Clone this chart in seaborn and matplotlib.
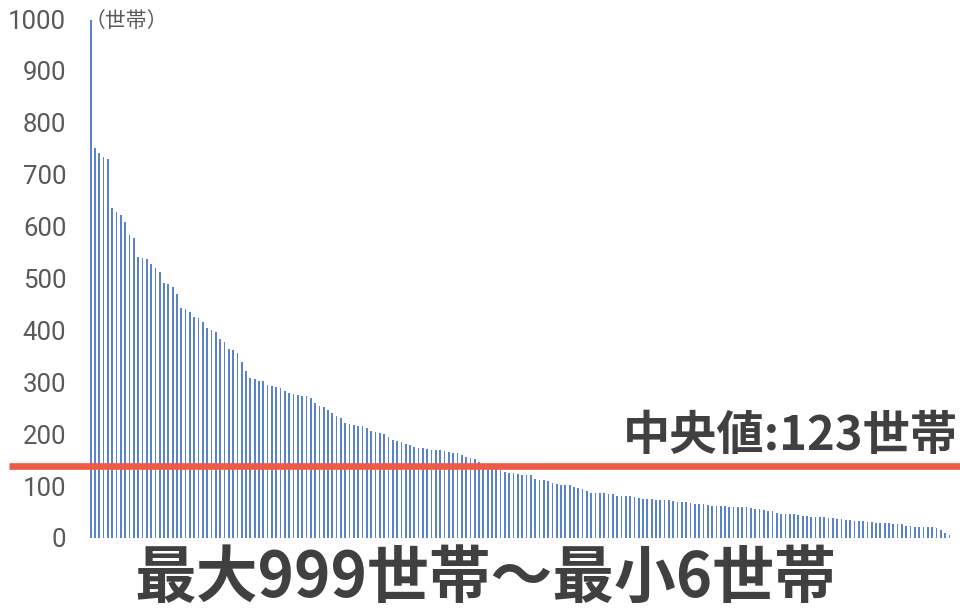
import numpy as np
import pandas as pd
import matplotlib
matplotlib.use("Agg")
import matplotlib.pyplot as plt
import matplotlib.transforms as mtransforms
import seaborn as sns


# households per district, sorted from largest to smallest (200 districts)
households = [
    999, 751, 742, 735, 731, 635, 628, 622, 608, 584,
    578, 542, 539, 537, 527, 521, 513, 491, 490, 484,
    470, 443, 442, 435, 425, 423, 417, 405, 401, 396,
    383, 377, 364, 363, 357, 340, 322, 308, 307, 303,
    302, 294, 293, 291, 289, 283, 279, 277, 276, 274,
    273, 269, 261, 254, 253, 247, 240, 235, 231, 221,
    220, 217, 216, 215, 212, 206, 204, 202, 200, 195,
    188, 186, 184, 181, 180, 175, 174, 173, 171, 170,
    170, 169, 168, 166, 164, 163, 160, 157, 155, 153,
    146, 137, 135, 133, 132, 131, 128, 126, 125, 124,
    122, 122, 121, 114, 112, 111, 109, 105, 104, 103,
    103, 102, 98, 96, 95, 91, 87, 87, 86, 86,
    85, 84, 81, 81, 81, 80, 79, 78, 76, 76,
    75, 74, 74, 73, 73, 72, 70, 69, 69, 67,
    66, 65, 65, 63, 62, 61, 61, 61, 60, 60,
    60, 59, 59, 58, 56, 56, 54, 52, 52, 49,
    47, 47, 46, 46, 44, 42, 42, 41, 41, 40,
    40, 38, 38, 37, 37, 35, 34, 33, 33, 32,
    30, 30, 29, 29, 28, 28, 27, 27, 26, 24,
    23, 22, 22, 22, 21, 21, 19, 15, 9, 6,
]
district_rank = list(range(1, len(households) + 1))

y_ticks = [0, 100, 200, 300, 400, 500, 600, 700, 800, 900, 1000]
median_value = 123
median_line_y = 138   # where the red line sits on the chart

df = pd.DataFrame({"rank": district_rank, "households": households})

sns.set_theme(style="white")
plt.rcParams["font.family"] = ["Noto Sans CJK JP", "DejaVu Sans"]

fig = plt.figure(figsize=(9.6, 6.11), dpi=100)
ax = fig.add_axes([0.0922, 0.1195, 0.899, 0.8494])

sns.barplot(data=df, x="rank", y="households", color="#5B82CC",
            saturation=1, width=0.4, ax=ax, linewidth=0)

ax.set_ylim(0, 1000)
ax.set_xlim(-0.5, len(households) - 0.5)
ax.set_yticks(y_ticks)
ax.set_yticklabels([str(t) for t in y_ticks], family=["Roboto"],
                   fontsize=18.5, color="#595959")
ax.tick_params(axis="y", length=0, pad=16)
ax.set_xticks([])
ax.set_xlabel("")
ax.set_ylabel("")
sns.despine(ax=ax, left=True, bottom=True)

# red median line across the whole width of the figure
trans = mtransforms.blended_transform_factory(fig.transFigure, ax.transData)
ax.plot([0.009, 1.0], [median_line_y, median_line_y], transform=trans,
        color="#EE5A45", linewidth=4.8, clip_on=False, solid_capstyle="butt",
        zorder=5)

fig.text(0.088, 1 - 21 / 611, "（世帯）", fontsize=15, color="#595959",
         va="center", ha="left")

ax.text(0.998, median_line_y + 13, f"中央値:{median_value}世帯",
        transform=trans, fontsize=34, fontweight="bold", color="#404040",
        ha="right", va="bottom")

fig.text(0.505, 1 - 578 / 611, "最大999世帯～最小6世帯", fontsize=44.5,
         fontweight="bold", color="#404040", ha="center", va="center")

fig.savefig("out.png", dpi=100)
